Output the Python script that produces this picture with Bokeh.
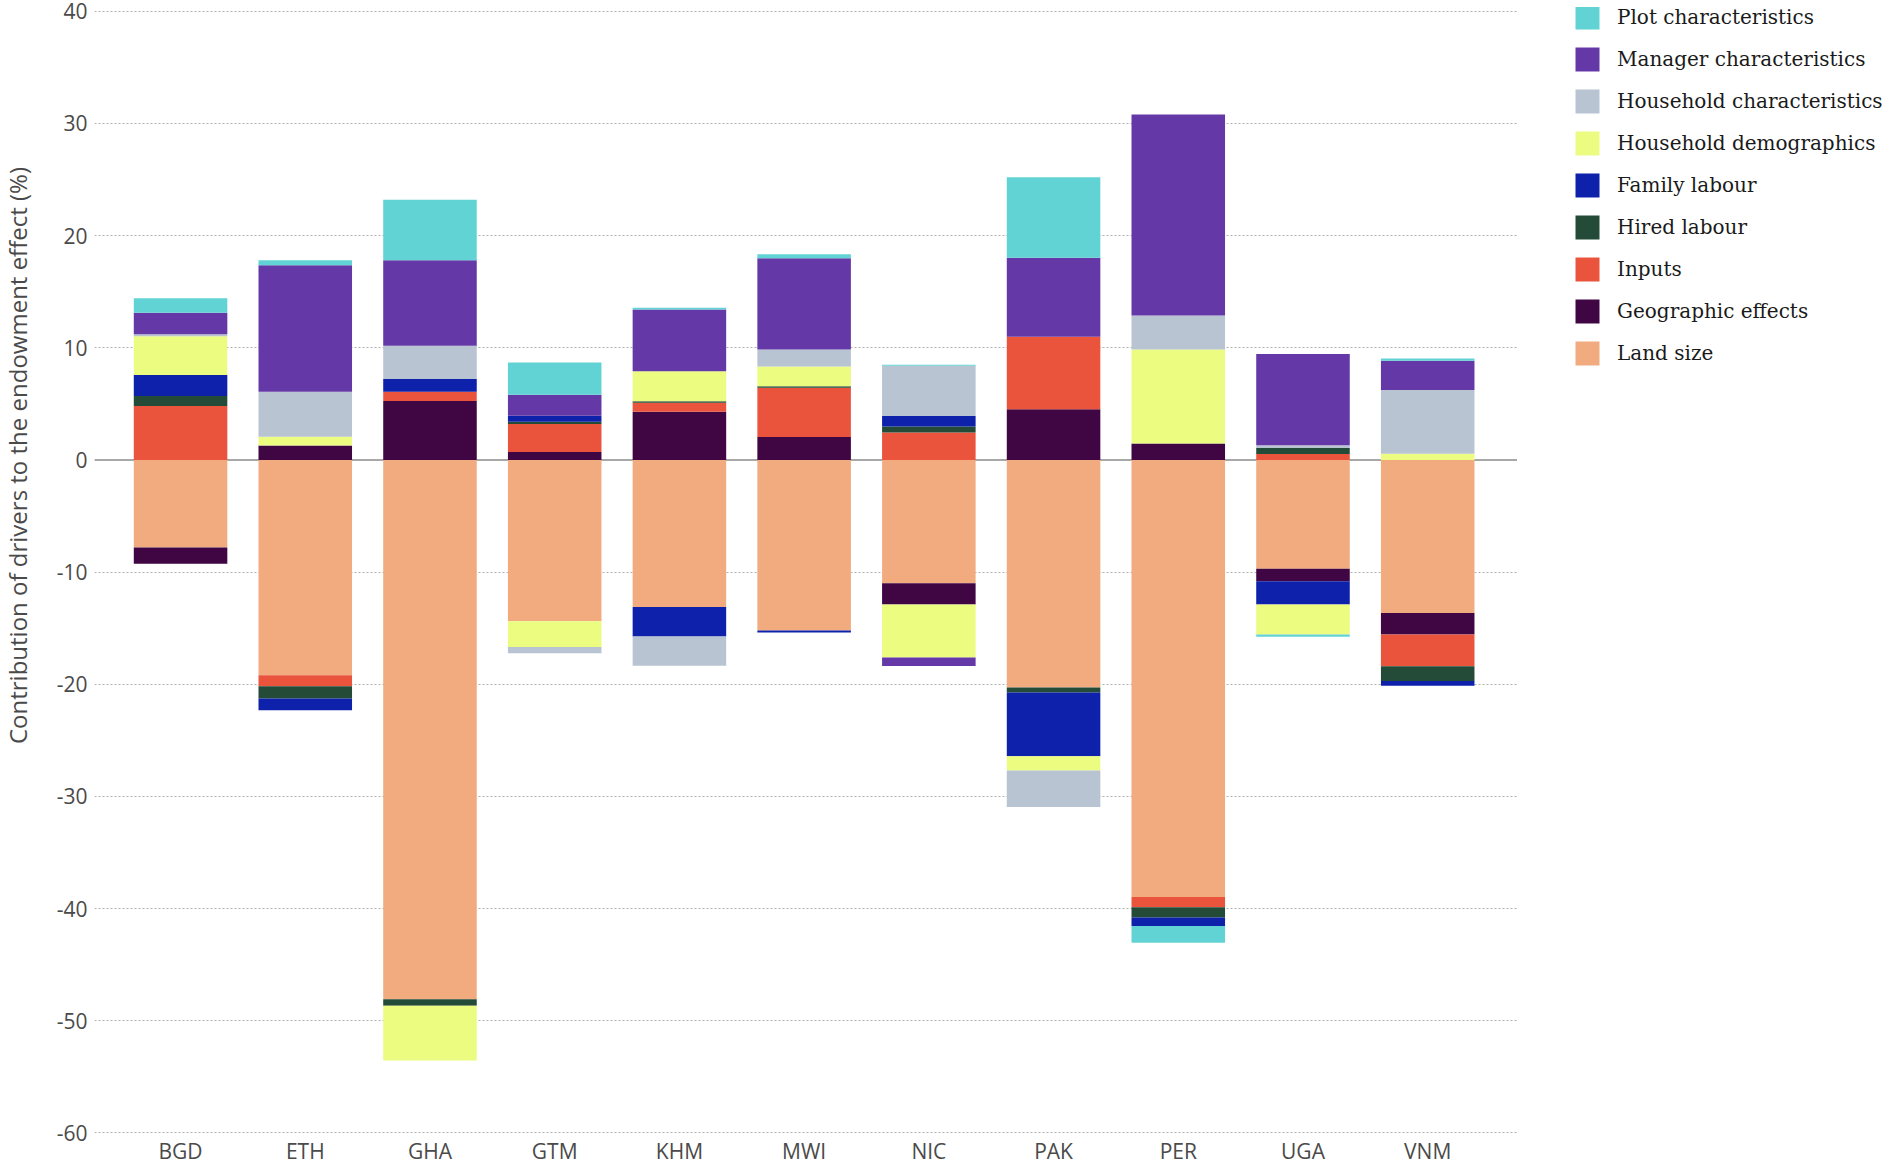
import math
from bokeh.plotting import figure
from bokeh.layouts import row
from bokeh.models import Range1d, FixedTicker, Legend, LegendItem, Span, Label
from bokeh.core.properties import value
from bokeh.embed import file_html
from bokeh.resources import INLINE

countries = ["BGD", "ETH", "GHA", "GTM", "KHM", "MWI", "NIC", "PAK", "PER", "UGA", "VNM"]

land_size          = [-7.80, -19.20, -48.07, -14.37, -13.10, -15.20, -11.00, -20.29, -38.97, -9.70, -13.65]
geographic         = [-1.45,   1.28,   5.25,   0.71,   4.30,   2.04,  -1.89,   4.52,   1.46, -1.11, -1.90]
inputs             = [ 4.81,  -0.97,   0.83,   2.49,   0.80,   4.39,   2.46,   6.47,  -0.90,  0.53, -2.85]
hired_labour       = [ 0.89,  -1.09,  -0.58,   0.21,   0.14,   0.15,   0.53,  -0.45,  -0.93,  0.54, -1.31]
family_labour      = [ 1.87,  -1.06,   1.13,   0.54,  -2.63,  -0.18,   0.92,  -5.67,  -0.74, -2.08, -0.42]
hh_demographics    = [ 3.47,   0.80,  -4.88,  -2.31,   2.67,   1.75,  -4.71,  -1.28,   8.38, -2.66,  0.56]
hh_characteristics = [ 0.18,   4.00,   2.97,  -0.56,  -2.61,   1.52,   4.48,  -3.24,   3.05,  0.24,  5.67]
manager_chars      = [ 1.90,  11.28,   7.62,   1.87,   5.51,   8.14,  -0.77,   7.04,  17.90,  8.13,  2.61]
plot_chars         = [ 1.30,   0.44,   5.40,   2.87,   0.15,   0.35,   0.11,   7.18,  -1.50, -0.22,  0.21]

series_names = ["Land size", "Geographic effects", "Inputs", "Hired labour", "Family labour",
                "Household demographics", "Household characteristics",
                "Manager characteristics", "Plot characteristics"]
series_values = [land_size, geographic, inputs, hired_labour, family_labour,
                 hh_demographics, hh_characteristics, manager_chars, plot_chars]
series_colors = ["#F1AB7E", "#400543", "#EA543C", "#234B37", "#0D21AA",
                 "#EBFC80", "#B8C4D2", "#6438A7", "#62D3D5"]

y_ticks = [-60, -50, -40, -30, -20, -10, 0, 10, 20, 30, 40]
y_label = "Contribution of drivers to the endowment effect (%)"

H = 1164
LABEL_W = 40
FRAME_LEFT = 94
FRAME_RIGHT = 1517
LEGEND_W = 1889 - FRAME_RIGHT
MAIN_W = FRAME_RIGHT - LABEL_W
Y_MIN, Y_MAX = -62.81, 40.34          # visible value range of the main frame


def blank(width):
    f = figure(width=width, height=H, x_range=Range1d(100, 101), y_range=Range1d(100, 101),
               x_axis_type=None, y_axis_type=None, min_border=0,
               output_backend="svg", toolbar_location=None)
    f.outline_line_color = None
    f.grid.visible = False
    return f


def stack(values_list):
    pos = [0.0] * len(countries)
    neg = [0.0] * len(countries)
    out = []
    for vals in values_list:
        bottoms, tops = [], []
        for i, v in enumerate(vals):
            if v >= 0:
                bottoms.append(pos[i]); tops.append(pos[i] + v); pos[i] += v
            else:
                tops.append(neg[i]); bottoms.append(neg[i] + v); neg[i] += v
        out.append((bottoms, tops))
    return out


xs = list(range(len(countries)))
stacked = stack(series_values)

# ---- y-axis title strip
lab = blank(LABEL_W)
lab.add_layout(Label(x=17, y=H - 455, x_units="screen", y_units="screen",
                     text=y_label, angle=math.pi / 2, text_align="center", text_baseline="middle",
                     text_font="Open Sans", text_font_size="24px", text_color="#4a4a4a"))

# ---- main chart
p = figure(width=MAIN_W, height=H,
           x_range=Range1d(-0.69, 10.72), y_range=Range1d(Y_MIN, Y_MAX),
           x_axis_location=None,
           output_backend="svg", toolbar_location=None,
           min_border_left=FRAME_LEFT - LABEL_W, min_border_right=0,
           min_border_top=7, min_border_bottom=0)
p.outline_line_color = None
p.xgrid.visible = False
p.ygrid.grid_line_color = "#b0b0b0"
p.ygrid.grid_line_dash = "2 2"
p.ygrid.grid_line_width = 1

p.yaxis.ticker = FixedTicker(ticks=y_ticks)
p.yaxis.major_label_overrides = {t: str(t) for t in y_ticks}
p.yaxis.axis_line_color = None
p.yaxis.major_tick_line_color = None
p.yaxis.minor_tick_line_color = None
p.yaxis.major_tick_out = 0
p.yaxis.minor_tick_out = 0
p.yaxis.major_tick_in = 0
p.yaxis.minor_tick_in = 0
p.yaxis.major_label_text_font = "Open Sans"
p.yaxis.major_label_text_font_size = "21px"
p.yaxis.major_label_text_color = "#4a4a4a"
p.yaxis.major_label_standoff = 7

p.add_layout(Span(location=0, dimension="width", line_color="#a8a8a8", line_width=2, level="underlay"))

for (bottoms, tops), col in zip(stacked, series_colors):
    p.vbar(x=xs, width=0.75, bottom=bottoms, top=tops, fill_color=col, line_color=None)

# category labels along the bottom edge of the frame
p.text(x=xs, y=[Y_MIN] * len(countries), text=countries,
       text_align="center", text_baseline="bottom",
       text_font=value("Open Sans"), text_font_size="21px", text_color="#4a4a4a")

# ---- legend strip (same bars, kept outside its visible range; only the legend shows)
leg = blank(LEGEND_W)
items = []
for name, (bottoms, tops), col in reversed(list(zip(series_names, stacked, series_colors))):
    r = leg.vbar(x=xs, width=0.75, bottom=bottoms, top=tops, fill_color=col, line_color=None)
    items.append(LegendItem(label=name, renderers=[r]))
legend = Legend(items=items, location=(55, 796),
                glyph_width=30, glyph_height=30, spacing=12, label_standoff=15,
                padding=0, margin=0, border_line_color=None, background_fill_alpha=0,
                label_text_font="DejaVu Serif", label_text_font_size="20px",
                label_text_color="#1a1a1a")
leg.add_layout(legend, "center")

layout = row(lab, p, leg, spacing=0)
open("out.html", "w").write(file_html(layout, INLINE))
